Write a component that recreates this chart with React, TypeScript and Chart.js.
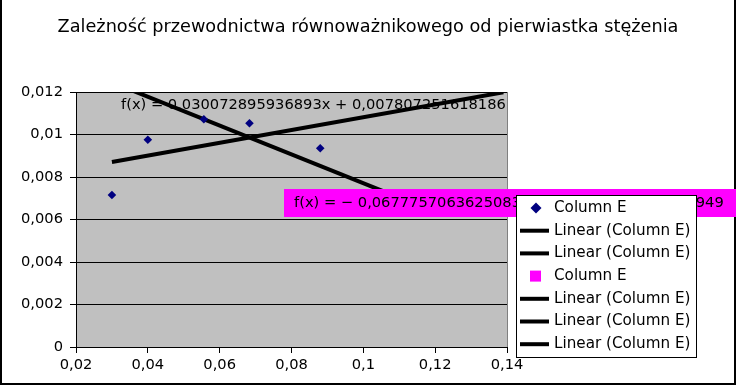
import React, { useEffect, useRef } from 'react';
import { Chart, registerables } from 'chart.js';

Chart.register(...registerables);

const FONT = "'DejaVu Sans', 'Bitstream Vera Sans', sans-serif";

const chartTitle = 'Zależność przewodnictwa równoważnikowego od pierwiastka stężenia';

// measured points (Column E)
const xValues = [0.03, 0.04, 0.0556, 0.0683, 0.088];
const yValues = [0.00715, 0.00975, 0.01072, 0.01053, 0.00935];

// linear trendlines (end points)
const trend1X = [0.03, 0.139];
const trend1Y = [0.008709, 0.011987];
const trend2X = [0.03, 0.11];
const trend2Y = [0.012455, 0.007033];

const trendLabel1 = 'f(x) = 0,030072895936893x + 0,007807251618186';
const trendLabel2 = 'f(x) = − 0,06777570636250831x + 0,0144886230641949';

const xTicks = [0.02, 0.04, 0.06, 0.08, 0.1, 0.12, 0.14];
const yTicks = [0, 0.002, 0.004, 0.006, 0.008, 0.01, 0.012];

const legendLabels = [
  'Column E',
  'Linear (Column E)',
  'Linear (Column E)',
  'Column E',
  'Linear (Column E)',
  'Linear (Column E)',
  'Linear (Column E)',
];
const legendKinds = ['diamond', 'line', 'line', 'square', 'line', 'line', 'line'];

const fmt = (v: number) => parseFloat(Number(v).toFixed(4)).toString().replace('.', ',');

const decorPlugin = {
  id: 'decor',
  beforeDraw(chart: any) {
    const { ctx, chartArea: a } = chart;
    ctx.save();
    ctx.fillStyle = '#ffffff';
    ctx.fillRect(0, 0, chart.width, chart.height);
    ctx.strokeStyle = '#000';
    ctx.lineWidth = 2;
    ctx.strokeRect(1, -1, chart.width - 2, chart.height - 1);
    ctx.fillStyle = '#c0c0c0';
    ctx.fillRect(a.left, a.top, a.right - a.left, a.bottom - a.top);
    ctx.fillStyle = '#000';
    ctx.font = `17.7px ${FONT}`;
    ctx.textAlign = 'center';
    ctx.textBaseline = 'middle';
    ctx.fillText(chartTitle, chart.width / 2, 27);
    ctx.restore();
  },
  beforeDatasetsDraw(chart: any) {
    const { ctx, chartArea: a } = chart;
    ctx.save();
    ctx.strokeStyle = '#808080';
    ctx.lineWidth = 1;
    ctx.beginPath();
    ctx.moveTo(a.right + 0.5, a.top);
    ctx.lineTo(a.right + 0.5, a.bottom);
    ctx.stroke();
    ctx.restore();
  },
  afterDraw(chart: any) {
    const { ctx } = chart;
    ctx.save();
    ctx.font = `14.67px ${FONT}`;
    ctx.textBaseline = 'middle';
    ctx.textAlign = 'left';
    ctx.fillStyle = '#000';
    ctx.fillText(trendLabel1, 121, 105.5);

    ctx.fillStyle = '#ff00ff';
    ctx.fillRect(284, 189, chart.width - 284, 28);
    ctx.fillStyle = '#000';
    ctx.fillText(trendLabel2, 294, 203);

    // legend
    const lx = 516, ly = 195, lw = 181, lh = 163;
    ctx.fillStyle = '#fff';
    ctx.fillRect(lx, ly, lw, lh);
    ctx.strokeStyle = '#000';
    ctx.lineWidth = 1;
    ctx.strokeRect(lx + 0.5, ly + 0.5, lw - 1, lh - 1);
    ctx.font = `15.2px ${FONT}`;
    legendLabels.forEach((label, i) => {
      const cy = 208 + i * 22.7;
      const kind = legendKinds[i];
      if (kind === 'line') {
        ctx.strokeStyle = '#000';
        ctx.lineWidth = 4;
        ctx.beginPath();
        ctx.moveTo(520, cy);
        ctx.lineTo(549, cy);
        ctx.stroke();
      } else if (kind === 'diamond') {
        ctx.fillStyle = '#000080';
        ctx.beginPath();
        ctx.moveTo(536, cy - 5.5);
        ctx.lineTo(541.5, cy);
        ctx.lineTo(536, cy + 5.5);
        ctx.lineTo(530.5, cy);
        ctx.closePath();
        ctx.fill();
      } else {
        ctx.fillStyle = '#ff00ff';
        ctx.fillRect(530, cy - 5.5, 11, 11);
      }
      ctx.fillStyle = '#000';
      ctx.fillText(label, 554, cy);
    });
    ctx.restore();
  },
};

export default function App() {
  const ref = useRef<HTMLCanvasElement | null>(null);
  useEffect(() => {
    document.body.style.margin = '0';
    const canvas = ref.current;
    if (!canvas) return;
    const chart = new Chart(canvas, {
      type: 'scatter',
      data: {
        datasets: [
          {
            label: 'Column E',
            data: xValues.map((x, i) => ({ x, y: yValues[i] })),
            pointStyle: 'rectRot',
            pointRadius: 4.3,
            pointHoverRadius: 4.3,
            backgroundColor: '#000080',
            borderColor: '#000080',
            borderWidth: 0,
            showLine: false,
          },
          {
            label: 'Linear (Column E)',
            data: trend1X.map((x, i) => ({ x, y: trend1Y[i] })),
            showLine: true,
            borderColor: '#000',
            borderWidth: 4,
            pointRadius: 0,
            fill: false,
            clip: 0,
          },
          {
            label: 'Linear (Column E)',
            data: trend2X.map((x, i) => ({ x, y: trend2Y[i] })),
            showLine: true,
            borderColor: '#000',
            borderWidth: 4,
            pointRadius: 0,
            fill: false,
            clip: 0,
          },
        ],
      },
      options: {
        responsive: false,
        devicePixelRatio: 1,
        animation: false,
        events: [],
        layout: { padding: { left: 0, top: 92, right: 229, bottom: 0 } },
        plugins: {
          legend: { display: false },
          title: { display: false },
          tooltip: { enabled: false },
        },
        scales: {
          x: {
            type: 'linear',
            min: 0.02,
            max: 0.14,
            afterBuildTicks: (s: any) => {
              s.ticks = xTicks.map((v) => ({ value: v }));
            },
            afterFit: (s: any) => {
              s.height = 39;
            },
            ticks: {
              callback: (v: any) => fmt(v),
              color: '#000',
              font: { family: FONT, size: 14.67 },
              padding: 3,
              maxRotation: 0,
              autoSkip: false,
            },
            grid: { drawOnChartArea: false, drawTicks: true, tickLength: 6, color: '#000' },
            border: { display: true, color: '#000', width: 1 },
          },
          y: {
            type: 'linear',
            min: 0,
            max: 0.012,
            afterBuildTicks: (s: any) => {
              s.ticks = yTicks.map((v) => ({ value: v }));
            },
            afterFit: (s: any) => {
              s.width = 76;
            },
            ticks: {
              callback: (v: any) => fmt(v),
              color: '#000',
              font: { family: FONT, size: 14.67 },
              padding: 7,
              autoSkip: false,
            },
            grid: { drawOnChartArea: true, drawTicks: true, tickLength: 6, color: '#000' },
            border: { display: true, color: '#000', width: 1 },
          },
        },
      },
      plugins: [decorPlugin],
    } as any);
    return () => chart.destroy();
  }, []);
  return (
    <div style={{ position: 'absolute', left: 0, top: 0, width: 736, height: 386 }}>
      <canvas ref={ref} width={736} height={386} style={{ display: 'block', width: 736, height: 386 }} />
    </div>
  );
}
